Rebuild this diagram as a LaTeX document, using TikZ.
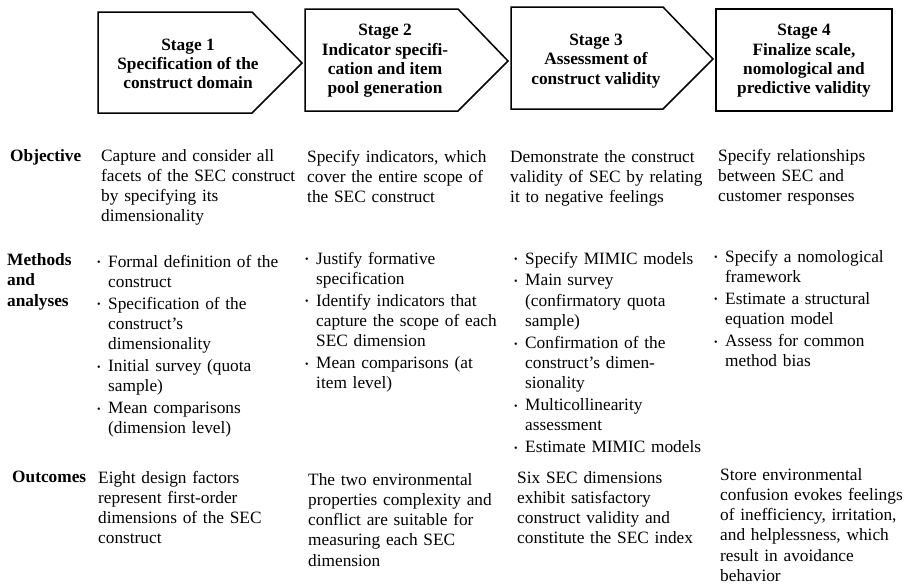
\documentclass[tikz,border=0pt]{standalone}
\usepackage{fontspec}
\setmainfont{Liberation Serif}
\newcommand\bul{\hangindent=12pt\hangafter=1\noindent\makebox[12pt][l]{\hspace{1pt}\raisebox{1.2pt}{\fontsize{10}{10}\selectfont •}}}
\newcommand\isep{\par\vspace{1.5pt}}
\tikzset{
  stagebox/.style={draw=black, line width=1.5pt, line join=miter},
  stagetext/.style={font=\fontsize{17.3}{19.3}\selectfont\bfseries, align=center, inner sep=0pt},
  rowlabel/.style={font=\fontsize{17.3}{20.6}\selectfont\bfseries, anchor=base west, inner sep=0pt, text width=90pt, align=left},
  celltext/.style={font=\fontsize{17.3}{20.3}\selectfont, anchor=base west, inner sep=0pt, text width=200pt, align=left},
}
\begin{document}
\begin{tikzpicture}[x=1pt,y=-1pt]
\fill[white] (0,0) rectangle (908,584);
\useasboundingbox (0,0) rectangle (908,584);
% stage shapes
\draw[stagebox] (98,12) -- (252,12) -- (302,63) -- (252,113) -- (98,113) -- cycle;
\draw[stagebox] (305,9) -- (458,9) -- (508,61) -- (458,111) -- (305,111) -- cycle;
\draw[stagebox] (511,7) -- (663,7) -- (713,59) -- (663,109) -- (511,109) -- cycle;
\draw[stagebox] (716,9) rectangle (892,111);
\node[stagetext] (s1) at (188,64) {Stage 1\\Specification of the\\construct domain};
\node[stagetext] (s2) at (385,61) {Stage 2\\Indicator specifi-\\cation and item\\pool generation};
\node[stagetext] (s3) at (596,61) {Stage 3\\Assessment of\\construct validity};
\node[stagetext] (s4) at (804,61) {Stage 4\\Finalize scale,\\nomological and\\predictive validity};
% row labels
\node[rowlabel] (lobj) at (10,161) {Objective};
\node[rowlabel] (lmeth) at (7,265) {Methods\newline and\newline analyses};
\node[rowlabel] (lout) at (12,482) {Outcomes};
% objective row
\node[celltext] (o1) at (101,161) {Capture and consider all\newline facets of the SEC construct\newline by specifying its\newline dimensionality};
\node[celltext] (o2) at (307,162) {Specify indicators, which\newline cover the entire scope of\newline the SEC construct};
\node[celltext] (o3) at (510,162) {Demonstrate the construct\newline validity of SEC by relating\newline it to negative feelings};
\node[celltext] (o4) at (718,161) {Specify relationships\newline between SEC and\newline customer responses};
% methods row
\node[celltext] (m1) at (96,267) {\bul Formal definition of the\newline construct\isep
\bul Specification of the\newline construct’s\newline dimensionality\isep
\bul Initial survey (quota\newline sample)\isep
\bul Mean comparisons\newline (dimension level)\par};
\node[celltext] (m2) at (304,264) {\bul Justify formative\newline specification\isep
\bul Identify indicators that\newline capture the scope of each\newline SEC dimension\isep
\bul Mean comparisons (at\newline item level)\par};
\node[celltext] (m3) at (513,264) {\bul Specify MIMIC models\isep
\bul Main survey\newline (confirmatory quota\newline sample)\isep
\bul Confirmation of the\newline construct’s dimen-\newline sionality\isep
\bul Multicollinearity\newline assessment\isep
\bul Estimate MIMIC models\par};
\node[celltext] (m4) at (713,262) {\bul Specify a nomological\newline framework\isep
\bul Estimate a structural\newline equation model\isep
\bul Assess for common\newline method bias\par};
% outcomes row
\node[celltext] (u1) at (98,483) {Eight design factors\newline represent first-order\newline dimensions of the SEC\newline construct};
\node[celltext] (u2) at (308,485) {The two environmental\newline properties complexity and\newline conflict are suitable for\newline measuring each SEC\newline dimension};
\node[celltext] (u3) at (517,483) {Six SEC dimensions\newline exhibit satisfactory\newline construct validity and\newline constitute the SEC index};
\node[celltext] (u4) at (720,480) {Store environmental\newline confusion evokes feelings\newline of inefficiency, irritation,\newline and helplessness, which\newline result in avoidance\newline behavior};
\end{tikzpicture}
\end{document}
